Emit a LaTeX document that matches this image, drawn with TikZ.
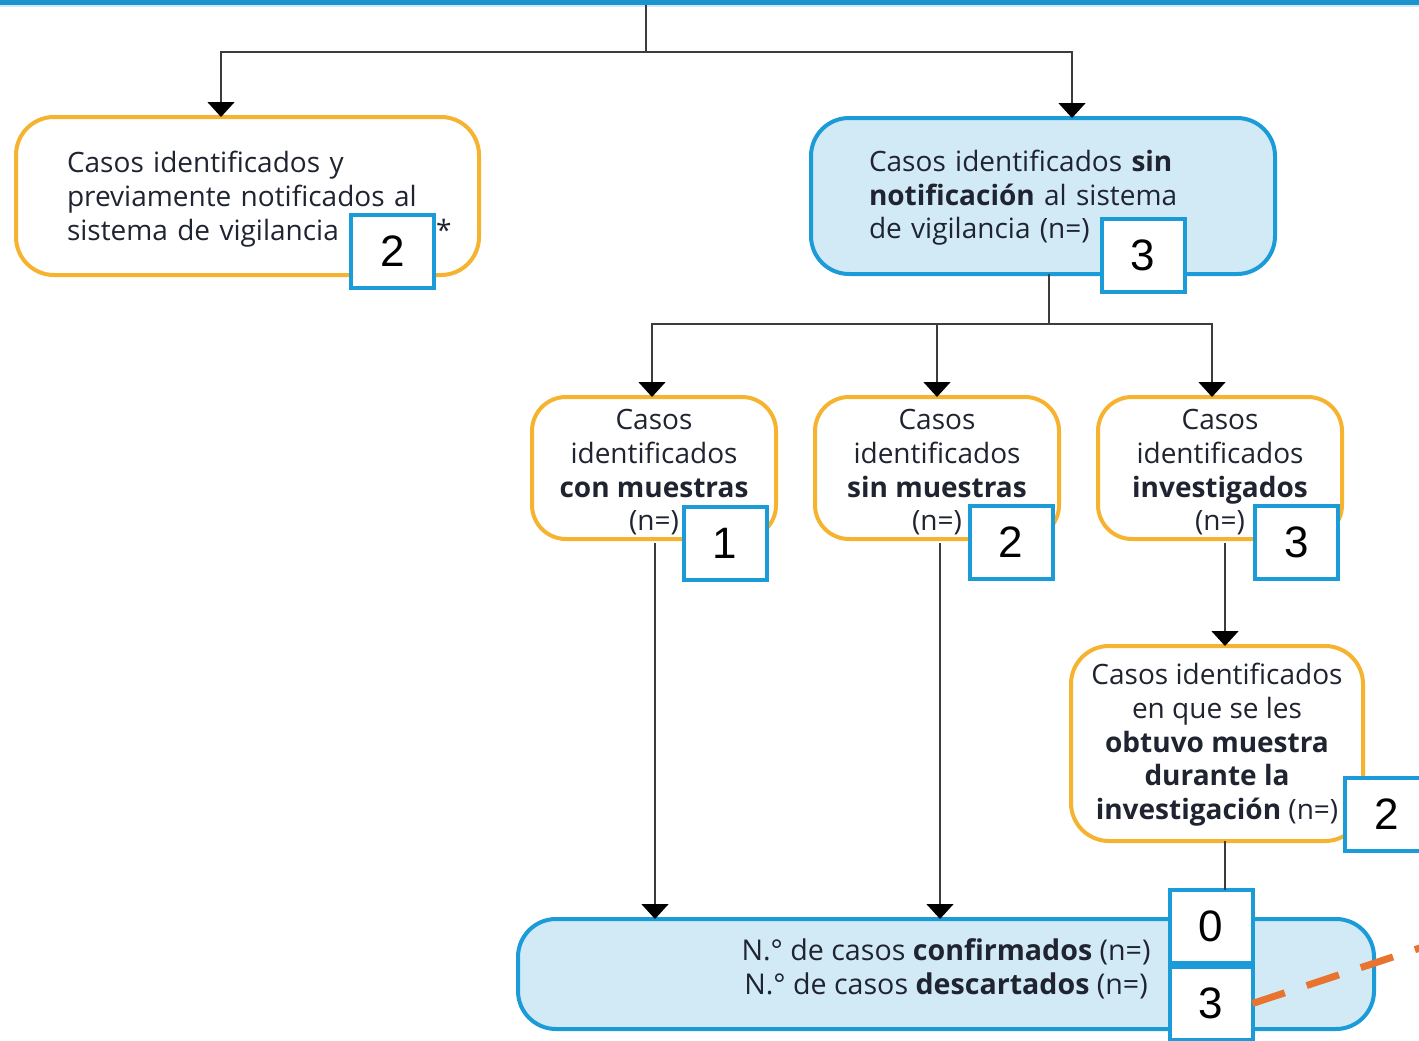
\documentclass[tikz,border=0pt]{standalone}
\usepackage{fontspec}
\setmainfont{Open Sans}
\newfontfamily\numfont{Liberation Sans}
\usetikzlibrary{arrows.meta,calc}
\definecolor{boxorange}{HTML}{F6B330}
\definecolor{boxblue}{HTML}{1B9BD7}
\definecolor{fillblue}{HTML}{D2EAF6}
\definecolor{inktext}{HTML}{1F2430}
\definecolor{connline}{HTML}{3C3C3C}
\definecolor{dashorange}{HTML}{E8742F}
% strut on the first line of a box: lowers the centred text block a little
\newcommand{\dropby}[1]{\rule{0pt}{\dimexpr 21pt+#1\relax}}
\begin{document}
\begin{tikzpicture}[x=1pt,y=-1pt,
  every node/.style={inner sep=0pt,outer sep=0pt},
  txt/.style={font=\fontsize{28}{33.7}\selectfont,text=inktext},
  obox/.style={txt,draw=boxorange,line width=4pt,fill=white,rounded corners=38pt},
  bbox/.style={txt,draw=boxblue,line width=4pt,fill=fillblue,rounded corners=38pt},
  numbox/.style={draw=boxblue,line width=4pt,fill=white,minimum width=83pt,minimum height=73pt,
    font=\numfont\fontsize{44}{44}\selectfont,text=black},
  conn/.style={draw=connline,line width=1.6pt},
  arr/.style={conn,-{Triangle[width=27pt,length=15pt,fill=black,color=black]}}]
\useasboundingbox (0,0) rectangle (1419,1041);

% header strip
\fill[boxblue!92!black!60!boxblue] (0,0) rectangle (1419,5);
\fill[fillblue] (0,5) rectangle (1419,7);

% boxes
\node[obox,minimum width=463pt,minimum height=158pt,text width=361pt,align=left] (left) at (247.5,196)
  {\dropby{7pt}Casos identificados y\\previamente notificados al\\\mbox{sistema de vigilancia (n=\hspace{38pt})*}};
\node[bbox,minimum width=464pt,minimum height=156pt,text width=348pt,align=left] (right) at (1043,196)
  {\dropby{4pt}Casos identificados \textbf{sin}\\\textbf{notificación} al sistema\\de vigilancia (n=)};
\node[obox,minimum width=244pt,minimum height=142pt,rounded corners=34pt,align=center] (A) at (654,468)
  {\dropby{8pt}Casos\\identificados\\\textbf{con muestras}\\(n=)};
\node[obox,minimum width=244pt,minimum height=142pt,rounded corners=34pt,align=center] (B) at (937,468)
  {\dropby{8pt}Casos\\identificados\\\textbf{sin muestras}\\(n=)};
\node[obox,minimum width=244pt,minimum height=142pt,rounded corners=34pt,align=center] (C) at (1220,468)
  {\dropby{8pt}Casos\\identificados\\\textbf{investigados}\\(n=)};
\node[obox,minimum width=292pt,minimum height=195pt,rounded corners=38pt,align=center] (D) at (1217,743.5)
  {\dropby{3pt}Casos identificados\\en que se les\\\textbf{obtuvo muestra}\\\textbf{durante la}\\\textbf{investigación} (n=)};
\node[bbox,minimum width=856pt,minimum height=110pt,align=center,
  font=\fontsize{28.6}{33.7}\selectfont] (bottom) at (946,974)
  {N.\textdegree{} de casos \textbf{confirmados} (n=)\\N.\textdegree{} de casos \textbf{descartados} (n=)\rule[-15pt]{0pt}{0pt}};

% connectors
\coordinate (top) at (646,5);
\coordinate (split) at (646,52);
\coordinate (leftin) at ($(left.north)+(-26.5,0)$);
\coordinate (rightin) at ($(right.north)+(29,0)$);
\coordinate (rightout) at ($(right.south)+(6,0)$);
\coordinate (split2) at ($(rightout)+(0,50)$);
\coordinate (Ain) at ($(A.north)+(-2,0)$);
\coordinate (Cin) at ($(C.north)+(-8,0)$);
\coordinate (Aout) at ($(A.south)+(1,4)$);
\coordinate (Bout) at ($(B.south)+(3,4)$);
\coordinate (Cout) at ($(C.south)+(5,4)$);
\coordinate (Dout) at ($(D.south)+(8,0)$);

\draw[conn] (top) -- (split);
\draw[arr] (split) -| (leftin);
\draw[arr] (split) -| (rightin);
\draw[conn] (rightout) -- (split2);
\draw[arr] (split2) -| (Ain);
\draw[arr] (split2) -| (B.north);
\draw[arr] (split2) -| (Cin);
\draw[arr] (Aout) -- (Aout |- bottom.north);
\draw[arr] (Bout) -- (Bout |- bottom.north);
\draw[arr] (Cout) -- (Cout |- D.north);

% number boxes
\node[numbox] (n1) at (392.5,251) {2};
\node[numbox] (n2) at (1143,255.5) {3};
\node[numbox] (n3) at (725,543) {1};
\node[numbox] (n4) at (1011,542.5) {2};
\node[numbox] (n5) at (1296.5,542.5) {3};
\node[numbox] (n6) at (1386.5,814) {2};
\node[numbox] (n7) at (1211,926.5) {0};
\node[numbox] (n8) at (1211,1003.5) {3};

\draw[conn] (Dout) -- (Dout |- n7.north);

% dashed marker
\coordinate (dashend) at (1432,944);
\draw[draw=dashorange,line width=7pt,dash pattern=on 34pt off 23pt] (n8.east) -- (dashend);
\end{tikzpicture}
\end{document}
